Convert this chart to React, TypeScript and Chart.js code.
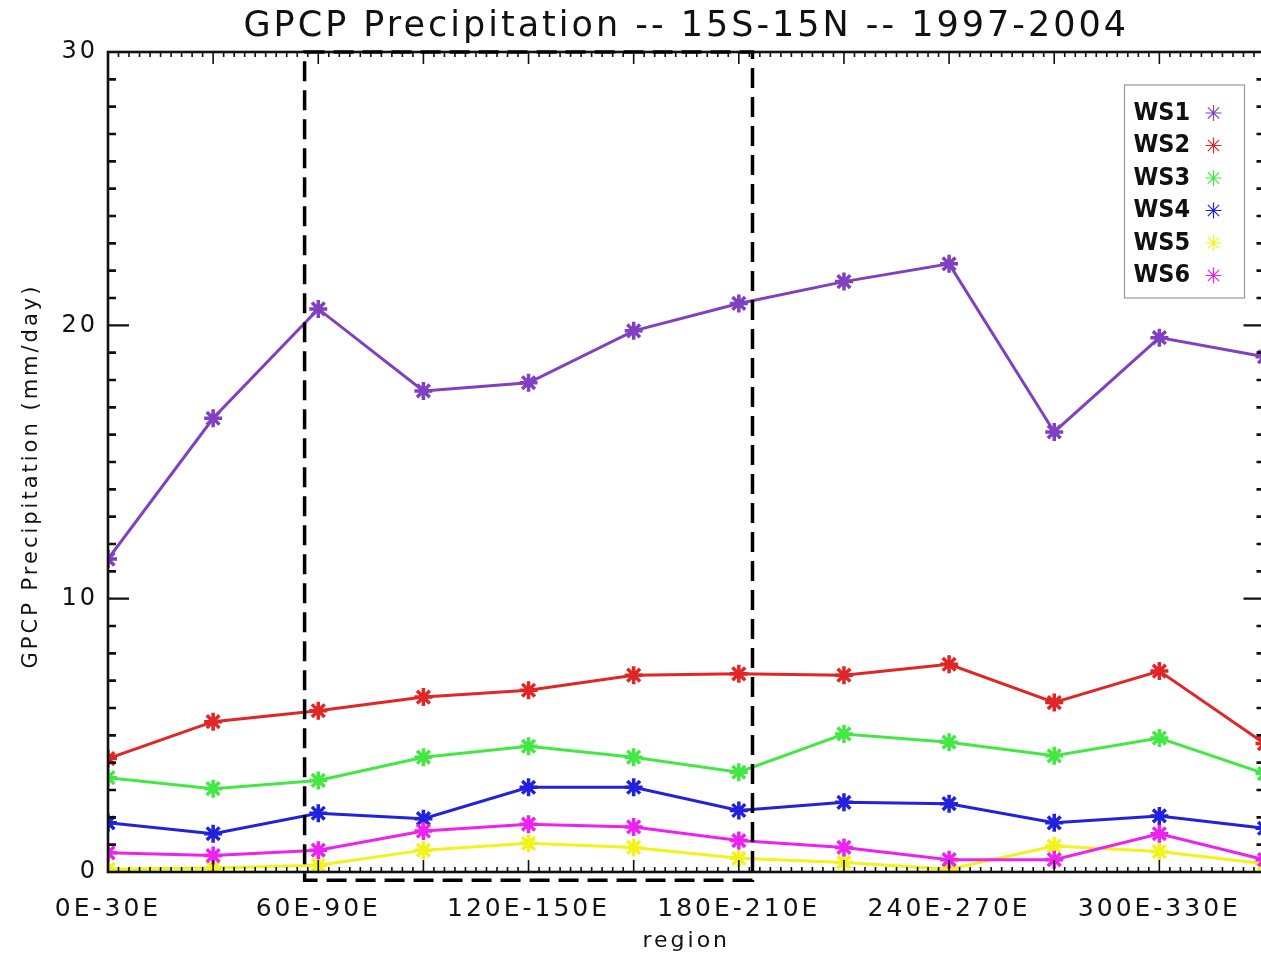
import React, { useEffect, useRef } from 'react';
import { Chart, registerables } from 'chart.js';
import { drawPoint } from 'chart.js/helpers';

Chart.register(...registerables);

// ---- data ----
const TITLE = 'GPCP Precipitation -- 15S-15N -- 1997-2004';
const X_TITLE = 'region';
const Y_TITLE = 'GPCP Precipitation (mm/day)';

const REGIONS = [
  '0E-30E', '30E-60E', '60E-90E', '90E-120E', '120E-150E', '150E-180E',
  '180E-210E', '210E-240E', '240E-270E', '270E-300E', '300E-330E', '330E-360E',
];
// only every other region is labelled on the axis
const X_TICK_LABELS = [
  '0E-30E', '', '60E-90E', '', '120E-150E', '',
  '180E-210E', '', '240E-270E', '', '300E-330E', '',
];
const Y_TICKS = [0, 10, 20, 30];

const SERIES_NAMES = ['WS1', 'WS2', 'WS3', 'WS4', 'WS5', 'WS6'];
const SERIES_COLORS = ['#8040c0', '#e02626', '#44e844', '#2222dd', '#f2f21c', '#ee22ee'];

const WS1 = [11.45, 16.6, 20.6, 17.6, 17.9, 19.8, 20.8, 21.6, 22.25, 16.1, 19.55, 18.85];
const WS2 = [4.15, 5.5, 5.9, 6.4, 6.65, 7.2, 7.25, 7.2, 7.6, 6.2, 7.35, 4.7];
const WS3 = [3.45, 3.05, 3.35, 4.2, 4.6, 4.2, 3.65, 5.05, 4.75, 4.25, 4.9, 3.6];
const WS4 = [1.8, 1.4, 2.15, 1.95, 3.1, 3.1, 2.25, 2.55, 2.5, 1.8, 2.05, 1.6];
const WS5 = [0.1, 0.15, 0.25, 0.8, 1.05, 0.9, 0.5, 0.35, 0.1, 0.95, 0.75, 0.3];
const WS6 = [0.7, 0.6, 0.8, 1.5, 1.75, 1.65, 1.15, 0.9, 0.45, 0.45, 1.4, 0.45];
const SERIES = [WS1, WS2, WS3, WS4, WS5, WS6];

// dashed highlight box (data coordinates: region index, mm/day)
const BOX_X = [1.87, 6.13];
const BOX_Y = [-0.3, 30];

const FONT = "'DejaVu Sans', sans-serif";
const LEGEND_FONT = "'DejaVu Sans Condensed', 'DejaVu Sans', sans-serif";

const spacingPlugin = {
  id: 'spacing',
  beforeDraw(chart: any) {
    chart.ctx.letterSpacing = '3px';
  },
};

const framePlugin = {
  id: 'frameTicks',
  afterDatasetsDraw(chart: any) {
    const { ctx, chartArea: a, scales } = chart;
    const x = scales.x;
    const y = scales.y;
    ctx.save();
    ctx.strokeStyle = '#111';
    // y ticks (both sides)
    for (let v = 0; v <= 30; v += 1) {
      const py = y.getPixelForValue(v);
      const major = v % 10 === 0;
      const len = major ? 21 : 8;
      ctx.lineWidth = major ? 2.2 : 2.6;
      ctx.beginPath();
      ctx.moveTo(a.left, py);
      ctx.lineTo(a.left + len, py);
      ctx.moveTo(a.right, py);
      ctx.lineTo(a.right - len, py);
      ctx.stroke();
    }
    // x ticks (top and bottom)
    for (let k = 0; k <= (REGIONS.length - 1) * 10; k++) {
      const px = x.getPixelForValue(k / 10);
      const major = k % 10 === 0;
      const len = major ? 12 : 5;
      ctx.lineWidth = 1.6;
      ctx.beginPath();
      ctx.moveTo(px, a.bottom);
      ctx.lineTo(px, a.bottom - len);
      ctx.moveTo(px, a.top);
      ctx.lineTo(px, a.top + len);
      ctx.stroke();
    }
    // frame
    ctx.lineWidth = 2.6;
    ctx.strokeRect(a.left, a.top, a.right - a.left, a.bottom - a.top);

    // dashed box
    const x0 = x.getPixelForValue(BOX_X[0]);
    const x1 = x.getPixelForValue(BOX_X[1]);
    const y0 = y.getPixelForValue(BOX_Y[1]);
    const y1 = y.getPixelForValue(BOX_Y[0]);
    ctx.setLineDash([20, 9]);
    ctx.lineWidth = 3.5;
    ctx.strokeStyle = '#000';
    ctx.strokeRect(x0, y0, x1 - x0, y1 - y0);
    ctx.setLineDash([]);

    // y axis title
    ctx.save();
    ctx.translate(32, (a.top + a.bottom) / 2 + 14);
    ctx.rotate(-Math.PI / 2);
    ctx.font = `21px ${FONT}`;
    ctx.letterSpacing = '3px';
    ctx.fillStyle = '#111';
    ctx.textAlign = 'center';
    ctx.textBaseline = 'middle';
    ctx.fillText(Y_TITLE, 0, 0);
    ctx.restore();

    // legend
    const lx = a.right - 140;
    const ly = a.top + 33;
    const lw = 120;
    const lh = 213;
    ctx.fillStyle = '#fff';
    ctx.fillRect(lx, ly, lw, lh);
    ctx.strokeStyle = '#999';
    ctx.lineWidth = 1.2;
    ctx.strokeRect(lx, ly, lw, lh);
    ctx.letterSpacing = '0px';
    ctx.font = `bold 25px ${LEGEND_FONT}`;
    ctx.textAlign = 'left';
    ctx.textBaseline = 'middle';
    SERIES_NAMES.forEach((name, i) => {
      const ty = ly + 28 + i * 32.5;
      ctx.fillStyle = '#111';
      ctx.fillText(name, lx + 9, ty);
      ctx.strokeStyle = SERIES_COLORS[i];
      ctx.fillStyle = SERIES_COLORS[i];
      drawPoint(ctx, { pointStyle: 'star', radius: 8, rotation: 0, borderWidth: 4 } as any, lx + 89, ty);
    });
    ctx.restore();
  },
};

export default function App() {
  const ref = useRef<HTMLCanvasElement>(null);
  useEffect(() => {
    if (!ref.current) return;
    const chart = new Chart(ref.current, {
      type: 'line',
      data: {
        datasets: SERIES.map((vals, i) => ({
          label: SERIES_NAMES[i],
          data: vals.map((v, k) => ({ x: k, y: v })),
          borderColor: SERIES_COLORS[i],
          backgroundColor: SERIES_COLORS[i],
          pointBorderColor: SERIES_COLORS[i],
          borderWidth: 3,
          pointStyle: 'star',
          pointRadius: 9,
          pointBorderWidth: 3.5,
          tension: 0,
          clip: 0,
          order: SERIES.length - i,
        })),
      },
      options: {
        animation: false,
        responsive: false,
        devicePixelRatio: 1,
        layout: { padding: { left: 0, right: 3, top: 0, bottom: 0 } },
        plugins: {
          legend: { display: false },
          tooltip: { enabled: false },
          title: {
            display: true,
            fullSize: false,
            text: TITLE,
            color: '#111',
            font: { family: FONT, size: 35, weight: 'normal', lineHeight: 1.2 },
            padding: { top: 6, bottom: 4 },
          },
        },
        scales: {
          x: {
            type: 'linear',
            min: 0,
            max: REGIONS.length - 1,
            position: 'bottom',
            grid: { display: false, drawTicks: false },
            border: { display: false },
            afterFit: (s: any) => { s.height = 87; s.paddingLeft = 0; s.paddingRight = 0; },
            afterBuildTicks: (s: any) => { s.ticks = REGIONS.map((_, i) => ({ value: i })); },
            ticks: {
              autoSkip: false,
              maxRotation: 0,
              padding: 22,
              color: '#111',
              font: { family: FONT, size: 25 },
              callback: (v: any) => X_TICK_LABELS[Math.round(Number(v))] ?? '',
            },
            title: {
              display: true,
              text: X_TITLE,
              color: '#111',
              font: { family: FONT, size: 22, lineHeight: 1.2 },
              padding: { top: 0, bottom: 5 },
            },
          },
          y: {
            type: 'linear',
            min: 0,
            max: 30,
            grid: { display: false, drawTicks: false },
            border: { display: false },
            afterFit: (s: any) => { s.width = 108; },
            afterBuildTicks: (s: any) => { s.ticks = Y_TICKS.map((v) => ({ value: v })); },
            ticks: {
              padding: 10,
              color: '#111',
              font: { family: FONT, size: 24 },
            },
            title: { display: false },
          },
        },
      },
      plugins: [spacingPlugin, framePlugin],
    });
    return () => chart.destroy();
  }, []);
  return (
    <div style={{ position: 'absolute', left: 0, top: 0, width: 1261, height: 959, overflow: 'hidden', background: '#fff' }}>
      <canvas ref={ref} width={1277} height={959} style={{ width: 1277, height: 959, display: 'block' }} />
    </div>
  );
}
